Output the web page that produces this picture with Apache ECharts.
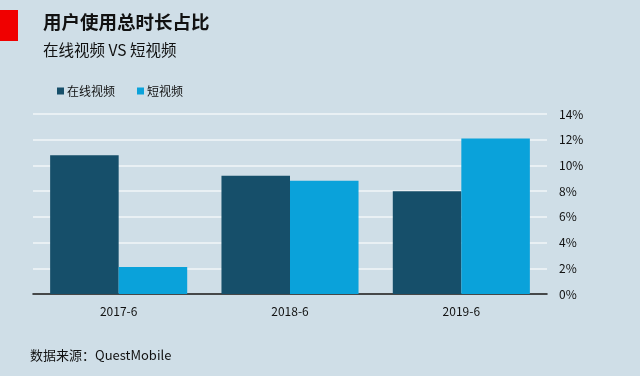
<!DOCTYPE html>
<html>
<head>
<meta charset="utf-8">
<script src="https://cdn.jsdelivr.net/npm/echarts@6/dist/echarts.min.js"></script>
<style>
  html, body { margin: 0; padding: 0; background: #cfdee7; }
  #chart { width: 640px; height: 376px; }
</style>
</head>
<body>
<div id="chart"></div>
<script>
var categories = ['2017-6', '2018-6', '2019-6'];
var onlineVideo = [10.8, 9.2, 8.0];
var shortVideo = [2.1, 8.8, 12.1];
var seriesNames = ['在线视频', '短视频'];

var font = '"Noto Sans CJK SC", "Noto Sans", sans-serif';

var chart = echarts.init(document.getElementById('chart'));
var option = {
  backgroundColor: '#cfdee7',
  textStyle: { fontFamily: font },
  graphic: [
    {
      type: 'rect',
      shape: { x: 0, y: 10, width: 18, height: 31 },
      style: { fill: '#f00000' }
    }
  ],
  title: [
    {
      text: '用户使用总时长占比',
      left: 38,
      top: 8,
      textStyle: { fontSize: 18.5, fontWeight: 'bold', color: '#111', fontFamily: font }
    },
    {
      text: '在线视频 VS 短视频',
      left: 38,
      top: 37,
      textStyle: { fontSize: 15.5, fontWeight: 'normal', color: '#111', fontFamily: font }
    },
    {
      text: '数据来源：QuestMobile',
      left: 25,
      top: 344,
      textStyle: { fontSize: 13, fontWeight: 'normal', color: '#111', fontFamily: font }
    }
  ],
  legend: {
    data: seriesNames,
    left: 52,
    top: 80,
    icon: 'rect',
    itemWidth: 7,
    itemHeight: 7,
    itemGap: 22,
    textStyle: { fontSize: 12, color: '#111', padding: [0, 0, 0, -2] }
  },
  grid: { left: 33, right: 93, top: 114, bottom: 82 },
  xAxis: {
    type: 'category',
    data: categories,
    axisLine: { lineStyle: { color: '#111', width: 1.5 } },
    axisTick: { show: false },
    axisLabel: { fontSize: 12, color: '#111', margin: 11 }
  },
  yAxis: {
    type: 'value',
    position: 'right',
    min: 0,
    max: 14,
    interval: 2,
    axisLine: { show: false },
    axisTick: { show: false },
    axisLabel: { formatter: '{value}%', fontSize: 12, color: '#111', margin: 12 },
    splitLine: { lineStyle: { color: '#f2f6f9', width: 1.5 } }
  },
  series: [
    {
      name: seriesNames[0],
      type: 'bar',
      data: onlineVideo,
      barGap: 0,
      barCategoryGap: '20%',
      itemStyle: { color: '#164f6a' }
    },
    {
      name: seriesNames[1],
      type: 'bar',
      data: shortVideo,
      barGap: 0,
      barCategoryGap: '20%',
      itemStyle: { color: '#0aa2da' }
    }
  ]
};
chart.setOption(option);
</script>
</body>
</html>
